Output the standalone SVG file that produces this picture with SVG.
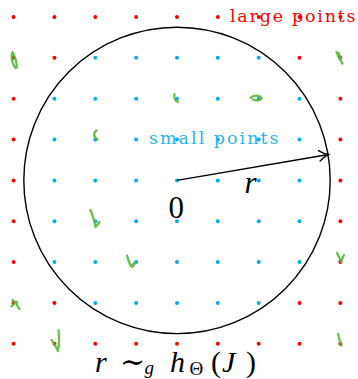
<svg xmlns="http://www.w3.org/2000/svg" width="358" height="379" viewBox="0 0 358 379">
<style>
.r{fill:#ff0000}
.b{fill:#00aeef}
.g{fill:none;stroke:#5cb83a;stroke-width:2.3;stroke-linecap:round;stroke-linejoin:round;opacity:0.9}
.serif{font-family:"Liberation Serif","DejaVu Serif",serif}
.dserif{font-family:"DejaVu Serif","Liberation Serif",serif}
.it{font-style:italic}
</style>
<rect width="358" height="379" fill="#ffffff"/>
<g id="points">
<g id="row0">
<circle class="r" cx="13.6" cy="17" r="2"/><circle class="r" cx="54.45" cy="17" r="2"/><circle class="r" cx="95.3" cy="17" r="2"/><circle class="r" cx="136.15" cy="17" r="2"/><circle class="r" cx="177" cy="17" r="2"/><circle class="r" cx="217.85" cy="17" r="2"/><circle class="r" cx="258.7" cy="17" r="2"/><circle class="r" cx="299.55" cy="17" r="2"/><circle class="r" cx="340.4" cy="17" r="2"/>
</g>
<g id="row1">
<circle class="r" cx="13.6" cy="57.85" r="2"/><circle class="r" cx="54.45" cy="57.85" r="2"/><circle class="b" cx="95.3" cy="57.85" r="2"/><circle class="b" cx="136.15" cy="57.85" r="2"/><circle class="b" cx="177" cy="57.85" r="2"/><circle class="b" cx="217.85" cy="57.85" r="2"/><circle class="b" cx="258.7" cy="57.85" r="2"/><circle class="r" cx="299.55" cy="57.85" r="2"/><circle class="r" cx="340.4" cy="57.85" r="2"/>
</g>
<g id="row2">
<circle class="r" cx="13.6" cy="98.7" r="2"/><circle class="b" cx="54.45" cy="98.7" r="2"/><circle class="b" cx="95.3" cy="98.7" r="2"/><circle class="b" cx="136.15" cy="98.7" r="2"/><circle class="b" cx="177" cy="98.7" r="2"/><circle class="b" cx="217.85" cy="98.7" r="2"/><circle class="b" cx="258.7" cy="98.7" r="2"/><circle class="b" cx="299.55" cy="98.7" r="2"/><circle class="r" cx="340.4" cy="98.7" r="2"/>
</g>
<g id="row3">
<circle class="r" cx="13.6" cy="139.55" r="2"/><circle class="b" cx="54.45" cy="139.55" r="2"/><circle class="b" cx="95.3" cy="139.55" r="2"/><circle class="b" cx="136.15" cy="139.55" r="2"/><circle class="b" cx="177" cy="139.55" r="2"/><circle class="b" cx="217.85" cy="139.55" r="2"/><circle class="b" cx="258.7" cy="139.55" r="2"/><circle class="b" cx="299.55" cy="139.55" r="2"/><circle class="r" cx="340.4" cy="139.55" r="2"/>
</g>
<g id="row4">
<circle class="r" cx="13.6" cy="180.4" r="2"/><circle class="b" cx="54.45" cy="180.4" r="2"/><circle class="b" cx="95.3" cy="180.4" r="2"/><circle class="b" cx="136.15" cy="180.4" r="2"/><circle class="b" cx="177" cy="180.4" r="2"/><circle class="b" cx="217.85" cy="180.4" r="2"/><circle class="b" cx="258.7" cy="180.4" r="2"/><circle class="b" cx="299.55" cy="180.4" r="2"/><circle class="r" cx="340.4" cy="180.4" r="2"/>
</g>
<g id="row5">
<circle class="r" cx="13.6" cy="221.25" r="2"/><circle class="b" cx="54.45" cy="221.25" r="2"/><circle class="b" cx="95.3" cy="221.25" r="2"/><circle class="b" cx="136.15" cy="221.25" r="2"/><circle class="b" cx="177" cy="221.25" r="2"/><circle class="b" cx="217.85" cy="221.25" r="2"/><circle class="b" cx="258.7" cy="221.25" r="2"/><circle class="b" cx="299.55" cy="221.25" r="2"/><circle class="r" cx="340.4" cy="221.25" r="2"/>
</g>
<g id="row6">
<circle class="r" cx="13.6" cy="262.1" r="2"/><circle class="b" cx="54.45" cy="262.1" r="2"/><circle class="b" cx="95.3" cy="262.1" r="2"/><circle class="b" cx="136.15" cy="262.1" r="2"/><circle class="b" cx="177" cy="262.1" r="2"/><circle class="b" cx="217.85" cy="262.1" r="2"/><circle class="b" cx="258.7" cy="262.1" r="2"/><circle class="b" cx="299.55" cy="262.1" r="2"/><circle class="r" cx="340.4" cy="262.1" r="2"/>
</g>
<g id="row7">
<circle class="r" cx="13.6" cy="302.95" r="2"/><circle class="r" cx="54.45" cy="302.95" r="2"/><circle class="b" cx="95.3" cy="302.95" r="2"/><circle class="b" cx="136.15" cy="302.95" r="2"/><circle class="b" cx="177" cy="302.95" r="2"/><circle class="b" cx="217.85" cy="302.95" r="2"/><circle class="b" cx="258.7" cy="302.95" r="2"/><circle class="r" cx="299.55" cy="302.95" r="2"/><circle class="r" cx="340.4" cy="302.95" r="2"/>
</g>
<g id="row8">
<circle class="r" cx="13.6" cy="343.8" r="2"/><circle class="r" cx="54.45" cy="343.8" r="2"/><circle class="r" cx="95.3" cy="343.8" r="2"/><circle class="r" cx="136.15" cy="343.8" r="2"/><circle class="r" cx="177" cy="343.8" r="2"/><circle class="r" cx="217.85" cy="343.8" r="2"/><circle class="r" cx="258.7" cy="343.8" r="2"/><circle class="r" cx="299.55" cy="343.8" r="2"/><circle class="r" cx="340.4" cy="343.8" r="2"/>
</g>
</g>
<g id="scribbles">
<path class="g" d="M12.5,52 C10.5,56 12,64 15.5,68 C17.5,69 17,63 15,58 C14,55 13,53 12.5,52 Z"/>
<path class="g" d="M174.5,94 C173.5,97 175,101 178,102"/>
<path class="g" d="M336.5,52 C338,56 340,60 342.5,63.5 M338.5,53 L341,58"/>
<path class="g" d="M250.5,98 C253,95 259,95 261.5,97.5 C262.5,100 256,101 253,99.5"/>
<path class="g" d="M96.5,130.5 C93.5,132.5 93,137 97.5,139.5"/>
<path class="g" d="M90.5,210 C92.5,215 94.5,220 95.5,227 C97,225 98.5,223.5 99.5,222"/>
<path class="g" d="M127,255.5 C128,259 129,263 131,266 C133,264 134,263 135.5,262.5 C134,264.5 133,266 132,267"/>
<path class="g" d="M12.5,300 C14,302 15,303 17,302 C16,304 17,306 19.5,309 M14,304 L11.5,306.5"/>
<path class="g" d="M51.5,340 C54,343 56,347 58,351 C59,345 59.5,337 58.5,330.5"/>
<path class="g" d="M337,253 C339,256 340,259 341,262 C342,259 343,257 344,255"/>
<path class="g" d="M338,334 C339,338 340,342 341.5,345.5"/>
</g>
<g id="region">
<circle cx="177" cy="180.4" r="153.2" fill="none" stroke="#000000" stroke-width="1.4"/>
</g>
<g id="connectors">
<line x1="177" y1="180.4" x2="327" y2="154.7" stroke="#000000" stroke-width="1.4"/>
<path d="M318.4,150.6 Q324,154 328.3,154.5 Q324.3,156.4 320.1,161" fill="none" stroke="#000000" stroke-width="1.4" stroke-linecap="round"/>
</g>
<g id="labels">
<text class="dserif" x="230" y="21.6" font-size="17.5" fill="#ff0000" textLength="125.5" lengthAdjust="spacing">large points</text>
<text class="dserif" x="149" y="144" font-size="17.5" fill="#2cb4ea" textLength="129.5" lengthAdjust="spacing">small points</text>
<text class="serif" x="168.5" y="217.5" font-size="31">0</text>
<text class="serif it" x="244.5" y="193.3" font-size="31">r</text>
<text class="serif" y="371.5" font-size="30"><tspan class="it" x="95">r</tspan><tspan x="120">∼</tspan><tspan class="it" x="144.5" y="374" font-size="19">g</tspan><tspan class="it" x="170" y="371.5">h</tspan><tspan x="189.5" y="375" font-size="19">Θ</tspan><tspan x="211" y="371.5">(</tspan><tspan class="it" x="222">J</tspan><tspan x="246">)</tspan></text>
</g>
</svg>
